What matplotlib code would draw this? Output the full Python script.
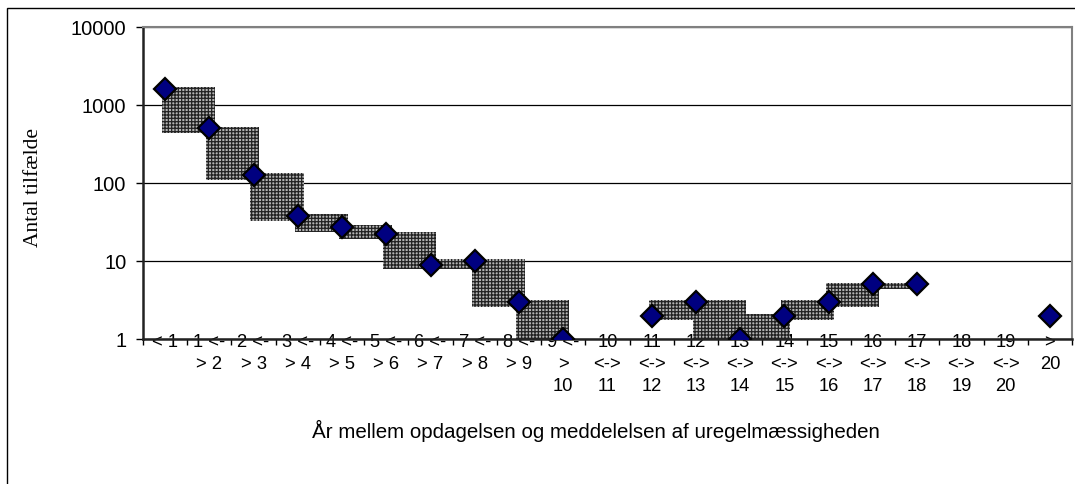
import numpy as np
import matplotlib
matplotlib.use("Agg")
import matplotlib.pyplot as plt
from matplotlib.patches import Rectangle

plt.rcParams['font.family'] = ['Liberation Sans', 'DejaVu Sans']
plt.rcParams['hatch.linewidth'] = 0.9

# data
kategorier = ["< 1", "1 <-\n> 2", "2 <-\n> 3", "3 <-\n> 4", "4 <-\n> 5", "5 <-\n> 6",
              "6 <-\n> 7", "7 <-\n> 8", "8 <-\n> 9", "9 <-\n>\n10",
              "10\n<->\n11", "11\n<->\n12", "12\n<->\n13", "13\n<->\n14", "14\n<->\n15",
              "15\n<->\n16", "16\n<->\n17", "17\n<->\n18", "18\n<->\n19", "19\n<->\n20",
              ">\n20"]
antal = [1600, 500, 125, 38, 27, 22, 9, 10, 3, 1, np.nan, 2, 3, 1, 2, 3, 5, 5, np.nan, np.nan, 2]
y_ticks = [1, 10, 100, 1000, 10000]
y_labels = ["1", "10", "100", "1000", "10000"]

x = np.arange(len(kategorier))
v = np.array(antal, dtype=float)

fig = plt.figure(figsize=(10.75, 4.85), dpi=100)
ax = fig.add_axes([143/1075, 1 - 340/485, (1072 - 143)/1075, (340 - 28)/485])

# skraverede felter mellem naboværdier
for i in range(len(v) - 1):
    a, b = v[i], v[i + 1]
    if np.isnan(a) or np.isnan(b):
        continue
    lo = min(a, b) / 1.15
    hi = max(a, b) * 1.06
    ax.bar(x[i] - 0.07, hi - lo, bottom=lo, width=1.2, align='edge',
           facecolor='#b4b4b4', edgecolor='#222222', linewidth=0, hatch='+++++', zorder=2)

ax.plot(x, v, ls='none', marker='D', ms=11.5, mfc='#000080', mec='black', mew=1.6, zorder=3)

ax.set_yscale('log')
ax.set_ylim(1, 10000)
ax.set_xlim(-0.5, len(kategorier) - 0.5)
ax.set_yticks(y_ticks, labels=y_labels)
ax.yaxis.set_minor_locator(matplotlib.ticker.NullLocator())
ax.tick_params(axis='y', direction='out', length=5, width=1, labelsize=14.5, pad=7)

ax.set_xticks(x, labels=kategorier, linespacing=1.37)
ax.set_xticks(np.arange(len(kategorier) + 1) - 0.5, minor=True)
ax.tick_params(axis='x', which='major', length=0, labelsize=13.2, pad=-4)
ax.tick_params(axis='x', which='minor', direction='out', length=4, width=1)

ax.grid(axis='y', which='major', color='black', lw=0.9)
ax.set_axisbelow(True)
for s in ['top', 'right']:
    ax.spines[s].set_color('#808080')
    ax.spines[s].set_linewidth(1.5)
for s in ['left', 'bottom']:
    ax.spines[s].set_color('#222222')
    ax.spines[s].set_linewidth(1.8)

fig.text(33/1075, 1 - 188/485, "Antal tilfælde", rotation=90, ha='center', va='center',
         fontsize=15.5, family=['Liberation Serif', 'DejaVu Serif'])
fig.text(596/1075, 1 - 431/485, "År mellem opdagelsen og meddelelsen af uregelmæssigheden",
         ha='center', va='center', fontsize=14.8)

fig.add_artist(Rectangle((7/1075, -0.1), 1.2, 1 - 9/485 + 0.1, transform=fig.transFigure,
                         fill=False, edgecolor='black', lw=1))

fig.savefig("out.png", dpi=100)
